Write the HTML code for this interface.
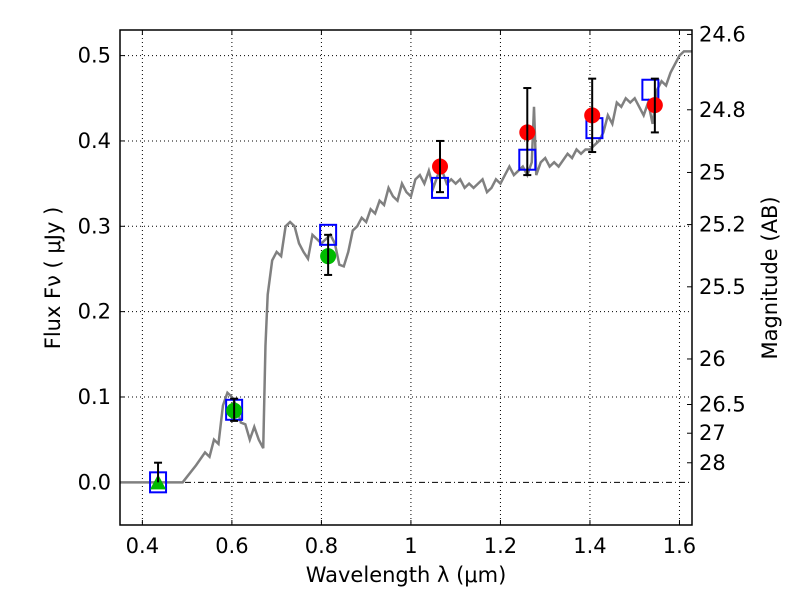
<!DOCTYPE html>
<html><head><meta charset="utf-8"><style>
body{margin:0;background:#fff}
svg text{font-family:"DejaVu Sans","Liberation Sans",sans-serif;font-size:21px;fill:#000}
</style></head><body>
<svg id="c" width="800" height="600" xmlns="http://www.w3.org/2000/svg"></svg>
<script>
const specX=[0.35,0.49,0.52,0.54,0.55,0.56,0.57,0.58,0.59,0.6,0.61,0.62,0.63,0.64,0.65,0.66,0.67,0.675,0.68,0.69,0.7,0.71,0.72,0.73,0.74,0.75,0.76,0.77,0.78,0.79,0.8,0.82,0.83,0.84,0.85,0.86,0.87,0.88,0.89,0.9,0.91,0.92,0.93,0.94,0.95,0.96,0.97,0.98,0.99,1.0,1.01,1.02,1.03,1.04,1.05,1.06,1.07,1.08,1.09,1.1,1.11,1.12,1.13,1.14,1.15,1.16,1.17,1.18,1.19,1.2,1.21,1.22,1.23,1.24,1.25,1.26,1.27,1.275,1.28,1.29,1.3,1.31,1.32,1.33,1.35,1.36,1.37,1.38,1.39,1.4,1.41,1.42,1.43,1.44,1.45,1.46,1.47,1.48,1.49,1.5,1.51,1.52,1.53,1.54,1.55,1.56,1.57,1.58,1.59,1.6,1.61,1.63];
const specY=[0,0,0.02,0.035,0.03,0.05,0.045,0.09,0.105,0.1,0.09,0.07,0.068,0.05,0.065,0.05,0.04,0.16,0.22,0.26,0.27,0.265,0.3,0.305,0.3,0.28,0.27,0.262,0.29,0.285,0.28,0.29,0.28,0.255,0.253,0.27,0.295,0.3,0.31,0.305,0.32,0.315,0.33,0.325,0.345,0.335,0.33,0.35,0.34,0.335,0.355,0.36,0.35,0.365,0.345,0.36,0.365,0.35,0.355,0.35,0.355,0.345,0.35,0.345,0.35,0.355,0.34,0.345,0.355,0.35,0.36,0.37,0.36,0.365,0.37,0.36,0.375,0.44,0.36,0.375,0.38,0.37,0.375,0.37,0.385,0.38,0.39,0.385,0.39,0.39,0.395,0.4,0.41,0.43,0.42,0.445,0.44,0.45,0.445,0.45,0.44,0.43,0.445,0.42,0.46,0.47,0.465,0.48,0.49,0.5,0.505,0.505];
const modelX=[0.435,0.605,0.815,1.065,1.26,1.41,1.535];
const modelY=[0,0.085,0.29,0.345,0.378,0.415,0.46];
const greenX=[0.605,0.815];
const greenY=[0.084,0.265];
const greenLo=[0.072,0.243];
const greenHi=[0.098,0.29];
const triX=[0.435];const triY=[0.0];const triHi=[0.023];
const redX=[1.065,1.26,1.405,1.545];
const redY=[0.37,0.41,0.43,0.442];
const redLo=[0.34,0.36,0.387,0.41];
const redHi=[0.40,0.462,0.473,0.473];
const xTicks=[0.4,0.6,0.8,1,1.2,1.4,1.6];
const xLabels=["0.4","0.6","0.8","1","1.2","1.4","1.6"];
const yTicks=[0,0.1,0.2,0.3,0.4,0.5];
const yLabels=["0.0","0.1","0.2","0.3","0.4","0.5"];
const magTicks=[24.6,24.8,25,25.2,25.5,26,26.5,27,28];
const magLabels=["24.6","24.8","25","25.2","25.5","26","26.5","27","28"];
const L=120,R=692,T=30,B=525,x0=0.35,x1=1.628,y0=-0.05,y1=0.53;
const X=v=>L+(v-x0)/(x1-x0)*(R-L), Y=v=>B-(v-y0)/(y1-y0)*(B-T);
const svg=document.getElementById('c');const NS='http://www.w3.org/2000/svg';
function mk(t,a,p){const e=document.createElementNS(NS,t);for(const k in a)e.setAttribute(k,a[k]);(p||svg).appendChild(e);return e;}
const cp=mk('clipPath',{id:'cp'});mk('rect',{x:L,y:T,width:R-L,height:B-T},cp);
xTicks.forEach((v,i)=>{const g=mk('line',{x1:X(v),x2:X(v),y1:T,y2:B,stroke:'#000','stroke-dasharray':'1,3','stroke-width':1});

mk('line',{x1:X(v),x2:X(v),y1:B,y2:B-5,stroke:'#000'});mk('line',{x1:X(v),x2:X(v),y1:T,y2:T+5,stroke:'#000'});
const t=mk('text',{x:X(v),y:B+28,'text-anchor':'middle'});t.textContent=xLabels[i];
});
yTicks.forEach((v,i)=>{mk('line',{x1:L,x2:R,y1:Y(v),y2:Y(v),stroke:'#000','stroke-dasharray':v===0?'6,3,1,3':'1,3','stroke-width':1});
mk('line',{x1:L,x2:L+5,y1:Y(v),y2:Y(v),stroke:'#000'});
const t=mk('text',{x:L-9,y:Y(v)+7,'text-anchor':'end'});t.textContent=yLabels[i];
});
magTicks.forEach((m,i)=>{const f=Math.pow(10,(23.9-m)/2.5);
mk('line',{x1:R,x2:R-5,y1:Y(f),y2:Y(f),stroke:'#000'});
const t=mk('text',{x:R+7,y:Y(f)+7});t.textContent=magLabels[i];
});
const sp=mk('polyline',{points:specX.map((v,i)=>X(v)+','+Y(specY[i])).join(' '),fill:'none',stroke:'#808080','stroke-width':2.5,'clip-path':'url(#cp)'});

modelX.forEach((v,i)=>{const r=mk('rect',{x:X(v)-8,y:Y(modelY[i])-10,width:16,height:20,fill:'none',stroke:'#0000ff','stroke-width':2});
});
function err(x,lo,hi){mk('line',{x1:X(x),x2:X(x),y1:Y(lo),y2:Y(hi),stroke:'#000','stroke-width':2});
[lo,hi].forEach(v=>mk('line',{x1:X(x)-4,x2:X(x)+4,y1:Y(v),y2:Y(v),stroke:'#000','stroke-width':2}));}
greenX.forEach((v,i)=>{const c=mk('circle',{cx:X(v),cy:Y(greenY[i]),r:8,fill:'#00bb00'});
err(v,greenLo[i],greenHi[i]);});
triX.forEach((v,i)=>{const x=X(v),y=Y(triY[i]);const p=mk('polygon',{points:`${x-8},${y+7} ${x+8},${y+7} ${x},${y-8}`,fill:'#00bb00'});

mk('line',{x1:x,x2:x,y1:y,y2:Y(triHi[i]),stroke:'#000','stroke-width':2});mk('line',{x1:x-4,x2:x+4,y1:Y(triHi[i]),y2:Y(triHi[i]),stroke:'#000','stroke-width':2});});
redX.forEach((v,i)=>{const c=mk('circle',{cx:X(v),cy:Y(redY[i]),r:8,fill:'#ff0000'});
err(v,redLo[i],redHi[i]);});
const fr=mk('rect',{x:L,y:T,width:R-L,height:B-T,fill:'none',stroke:'#000','stroke-width':1.5});

const xt=mk('text',{x:406,y:582,'text-anchor':'middle'});xt.textContent='Wavelength  λ (μm)';

const yt=mk('text',{x:0,y:0,'text-anchor':'middle',transform:'translate(60,278) rotate(-90)'});yt.textContent='Flux  Fν  ( μJy )';

const mt=mk('text',{x:0,y:0,'text-anchor':'middle',transform:'translate(777,278) rotate(-90)'});mt.textContent='Magnitude (AB)';

</script>
</body></html>
